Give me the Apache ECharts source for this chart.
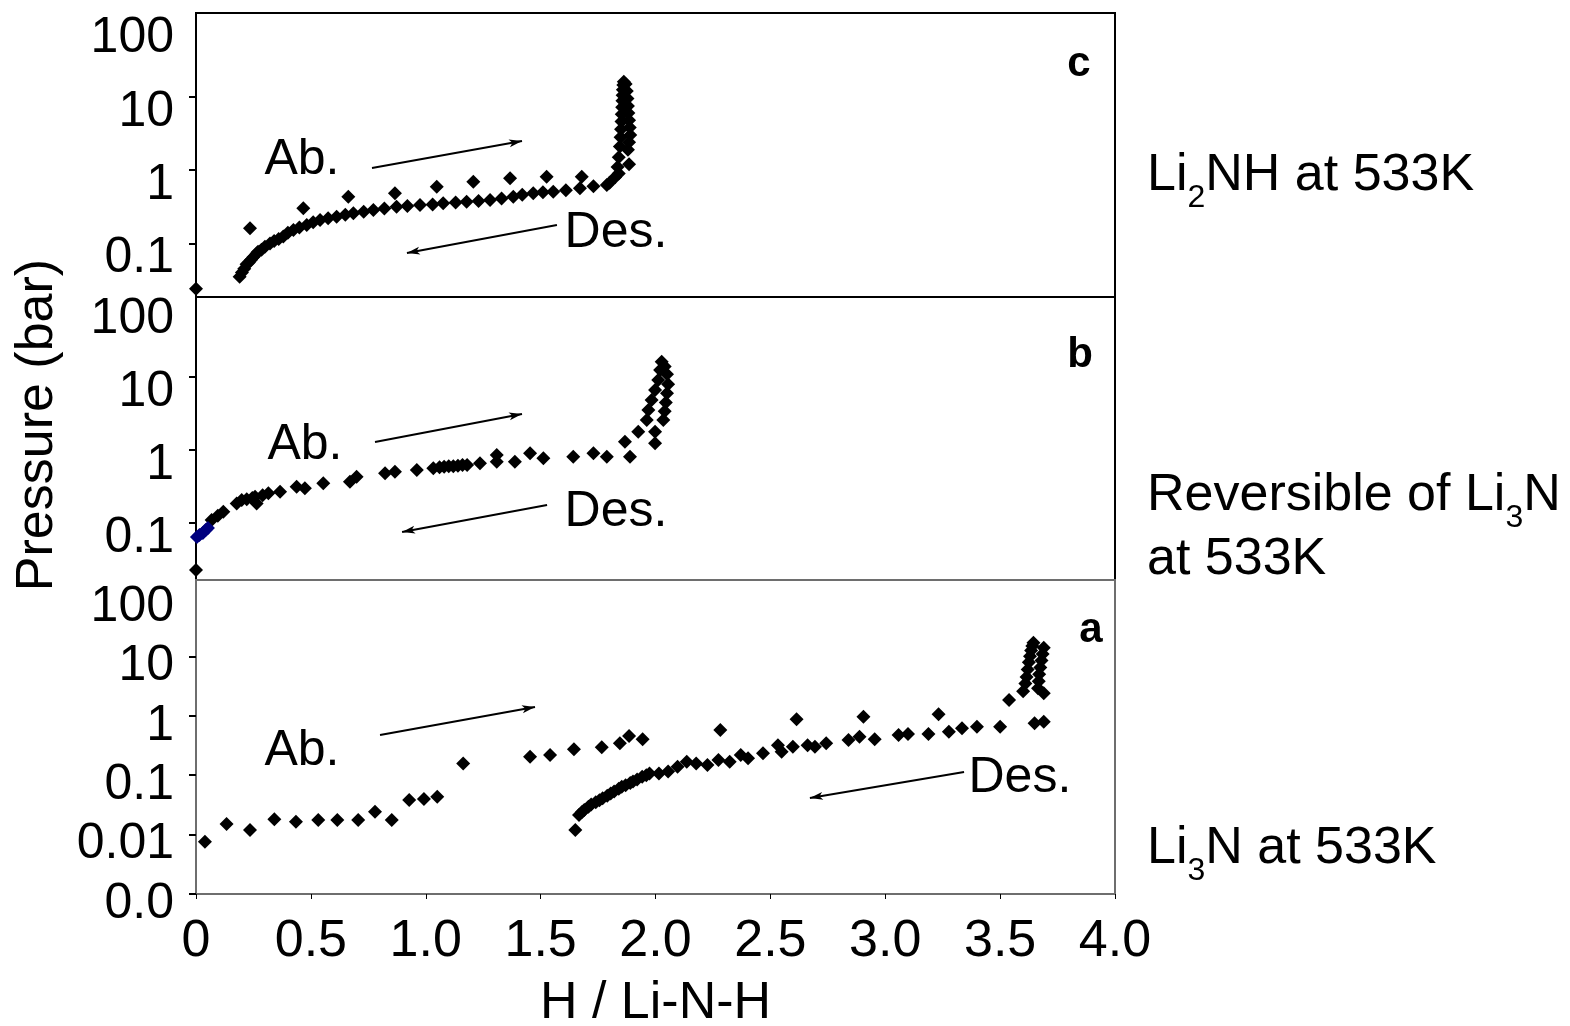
<!DOCTYPE html>
<html>
<head>
<meta charset="utf-8">
<script src="https://cdn.jsdelivr.net/npm/echarts@6/dist/echarts.min.js"></script>
<style>
  html, body { margin: 0; padding: 0; background: #fff; }
  #chart { width: 1570px; height: 1026px; }
</style>
</head>
<body>
<div id="chart"></div>
<script>
// ---- data: H / Li-N-H (x) vs pressure in bar (y) ----

// x axis ticks
const xTicks = [0, 0.5, 1.0, 1.5, 2.0, 2.5, 3.0, 3.5, 4.0];
// decade ticks / labels per panel
const upperTickValues = [0.1, 1, 10];
const upperLabelValues = [0.1, 1, 10, 100];
const lowerTickValues = [0.001, 0.01, 0.1, 1, 10];
const lowerLabelValues = [0.001, 0.01, 0.1, 1, 10, 100];

// (c) Li2NH at 533K
const li2nhAbs = [
  [0, 0.024], [0.235, 0.161], [0.467, 0.301], [0.663, 0.434], [0.866, 0.482], [1.048, 0.594],
  [1.207, 0.695], [1.367, 0.773], [1.526, 0.813], [1.679, 0.813], [1.80, 0.67], [1.824, 0.80],
  [1.835, 1.1], [1.84, 1.5], [1.845, 2.1], [1.848, 2.8], [1.85, 3.6], [1.852, 4.6], [1.853, 5.8],
  [1.855, 7.2], [1.856, 8.8], [1.857, 10.5], [1.858, 12.5], [1.86, 14.5], [1.862, 16]
];
const li2nhDes = [
  [1.87, 15], [1.875, 12], [1.878, 9.5], [1.88, 7.5], [1.882, 6], [1.885, 4.8], [1.888, 3.8],
  [1.89, 3.0], [1.885, 2.4], [1.88, 1.9], [1.885, 1.2], [1.84, 0.9], [1.788, 0.627], [1.73, 0.60],
  [1.671, 0.565], [1.61, 0.53], [1.555, 0.507], [1.51, 0.50], [1.468, 0.482], [1.42, 0.46],
  [1.381, 0.434], [1.33, 0.41], [1.28, 0.391], [1.23, 0.38], [1.178, 0.371], [1.13, 0.36],
  [1.076, 0.352], [1.03, 0.34], [0.975, 0.334], [0.92, 0.325], [0.873, 0.317], [0.82, 0.30],
  [0.772, 0.286], [0.73, 0.27], [0.685, 0.257], [0.65, 0.245], [0.612, 0.231], [0.575, 0.22],
  [0.54, 0.208], [0.51, 0.195], [0.482, 0.178], [0.45, 0.165], [0.424, 0.152], [0.40, 0.14],
  [0.38, 0.124], [0.36, 0.115], [0.34, 0.108], [0.322, 0.10], [0.30, 0.09], [0.285, 0.082],
  [0.27, 0.077], [0.264, 0.073], [0.25, 0.065], [0.24, 0.06], [0.23, 0.055], [0.22, 0.052],
  [0.21, 0.045], [0.20, 0.04], [0.19, 0.035]
];

// (b) Reversible of Li3N at 533K
const li3nRevStart = [[0.004, 0.064], [0.015, 0.068], [0.03, 0.0726], [0.042, 0.08], [0.052, 0.085]];
const li3nRev = [
  [0, 0.0225], [0.068, 0.109], [0.095, 0.125], [0.119, 0.142], [0.177, 0.185], [0.199, 0.206],
  [0.221, 0.21], [0.245, 0.22], [0.257, 0.229], [0.264, 0.185], [0.29, 0.24], [0.315, 0.254],
  [0.366, 0.268], [0.438, 0.314], [0.474, 0.298], [0.554, 0.349], [0.67, 0.367], [0.699, 0.43],
  [0.823, 0.479], [0.866, 0.504], [0.961, 0.531], [1.033, 0.561], [1.06, 0.58], [1.08, 0.59],
  [1.10, 0.60], [1.12, 0.60], [1.14, 0.61], [1.16, 0.62], [1.18, 0.62], [1.236, 0.656],
  [1.309, 0.853], [1.309, 0.69], [1.388, 0.69], [1.454, 0.9], [1.512, 0.77], [1.642, 0.81],
  [1.73, 0.9], [1.788, 0.81], [1.889, 0.81], [1.867, 1.3], [1.925, 1.78], [1.998, 1.24],
  [1.998, 1.78], [1.962, 2.58], [1.969, 3.54], [1.983, 4.86], [1.998, 6.66], [2.012, 9.14],
  [2.02, 12.5], [2.027, 16.3], [2.034, 2.58], [2.04, 3.4], [2.045, 4.5], [2.05, 6.0],
  [2.055, 8.0], [2.05, 11], [2.04, 14]
];

// (a) Li3N at 533K
const li3nAbs = [
  [0.039, 0.0076], [0.133, 0.0151], [0.235, 0.0119], [0.341, 0.0181], [0.435, 0.0164],
  [0.532, 0.0176], [0.615, 0.0176], [0.706, 0.0176], [0.779, 0.0242], [0.852, 0.0176],
  [0.928, 0.0382], [0.992, 0.0397], [1.05, 0.0433], [1.163, 0.158], [1.454, 0.205],
  [1.541, 0.219], [1.645, 0.273], [1.766, 0.295], [1.845, 0.344], [1.885, 0.457], [1.944, 0.402],
  [2.282, 0.577], [2.614, 0.873], [2.905, 0.966], [3.232, 1.06], [3.539, 1.84], [3.60, 2.6],
  [3.61, 3.5], [3.615, 4.5], [3.62, 6], [3.625, 8], [3.63, 10], [3.635, 12.5], [3.64, 15], [3.645, 17]
];
const li3nDes = [
  [3.69, 14], [3.685, 11], [3.68, 8.5], [3.675, 6.5], [3.67, 5], [3.668, 3.8], [3.665, 2.9],
  [3.69, 2.39], [3.65, 0.746], [3.69, 0.794], [3.5, 0.654], [3.399, 0.654], [3.334, 0.615],
  [3.277, 0.54], [3.188, 0.494], [3.099, 0.494], [3.058, 0.475], [2.954, 0.402], [2.888, 0.445],
  [2.84, 0.392], [2.743, 0.344], [2.694, 0.302], [2.662, 0.32], [2.598, 0.302], [2.549, 0.249],
  [2.533, 0.32], [2.468, 0.233], [2.403, 0.192], [2.371, 0.219], [2.323, 0.169], [2.274, 0.18],
  [2.226, 0.148], [2.177, 0.158], [2.136, 0.169], [2.096, 0.139], [2.055, 0.115], [2.015, 0.107],
  [1.974, 0.107], [1.96, 0.1], [1.942, 0.094], [1.92, 0.085], [1.902, 0.078], [1.89, 0.074],
  [1.87, 0.068], [1.853, 0.064], [1.84, 0.059], [1.82, 0.053], [1.805, 0.049], [1.79, 0.045],
  [1.77, 0.041], [1.756, 0.038], [1.74, 0.035], [1.72, 0.032], [1.708, 0.0295], [1.69, 0.026],
  [1.68, 0.024], [1.667, 0.0214], [1.651, 0.0119]
];

// ---- annotations (data coordinates) ----
const notesC = [['Ab.', [0.461, 1.37]], ['Des.', [1.828, 0.139]]];
const arrowsC = [[[0.766, 1.068], [1.419, 2.49]], [[1.571, 0.178], [0.918, 0.074]]];
const notesB = [['Ab.', [0.474, 1.17]], ['Des.', [1.828, 0.141]]];
const arrowsB = [[[0.779, 1.288], [1.419, 3.12]], [[1.528, 0.176], [0.897, 0.0749]]];
const notesA = [['Ab.', [0.461, 0.255]], ['Des.', [3.586, 0.0897]]];
const arrowsA = [[[0.801, 0.475], [1.4755, 1.41]], [[3.343, 0.113], [2.672, 0.0413]]];

// ---- chart ----
const FONT = '"Liberation Sans", Arial, Helvetica, sans-serif';
const chart = echarts.init(document.getElementById('chart'), null, { renderer: 'canvas' });

const decadeText = { '2': '100', '1': '10', '0': '1', '-1': '0.1', '-2': '0.01', '-3': '0.0' };
function fmtDecade(v) {
  const t = decadeText[String(Math.round(Math.log10(v)))];
  return t ? '{t|' + t + '}' : '';
}

function logAxis(gridIndex, min, max, ticks, labels, shift) {
  return {
    type: 'log', logBase: 10, gridIndex, min, max,
    axisLine: { show: false },
    splitLine: { show: false },
    axisTick: { show: true, length: 7, lineStyle: { color: '#000', width: 2 }, customValues: ticks },
    axisLabel: {
      customValues: labels, formatter: fmtDecade, margin: 22,
      rich: {
        t: { fontFamily: FONT, fontSize: 50, color: '#000', padding: [shift * 2, 0, 0, 0] }
      }
    }
  };
}

function hiddenX(gridIndex) {
  return { type: 'value', gridIndex, min: 0, max: 4, interval: 0.5, show: false };
}

function diamonds(name, data, idx, color, extra) {
  return Object.assign({
    name, type: 'scatter', xAxisIndex: idx, yAxisIndex: idx, data,
    symbol: 'diamond', symbolSize: 14, clip: false, animation: false,
    itemStyle: { color: color || '#000', opacity: 1 }
  }, extra || {});
}

function arrowLines(list) {
  return {
    silent: true, animation: false, symbol: ['none', 'arrow'], symbolSize: [6, 13],
    label: { show: false },
    lineStyle: { color: '#000', width: 2, type: 'solid', opacity: 1 },
    emphasis: { disabled: true },
    data: list.map(a => [{ coord: a[0] }, { coord: a[1] }])
  };
}

function noteTexts(list) {
  return {
    silent: true, animation: false, symbol: 'rect', symbolSize: 1,
    itemStyle: { color: 'rgba(0,0,0,0)' },
    label: {
      show: true, position: 'inside', formatter: p => p.name,
      fontFamily: FONT, fontSize: 50, color: '#000'
    },
    data: list.map(n => ({ name: n[0], coord: n[1] }))
  };
}

function sideLabel(x, y, text) {
  return {
    type: 'text', x, y,
    style: {
      text, fill: '#000', font: '52px ' + FONT, fontFamily: FONT, fontSize: 52,
      lineHeight: 76, align: 'left', verticalAlign: 'middle',
      rich: { s: { fontFamily: FONT, fontSize: 32, lineHeight: 32, verticalAlign: 'bottom', fill: '#000' } }
    }
  };
}

function panelLetter(x, y, text) {
  return {
    type: 'text', x, y,
    style: { text, font: 'bold 42px ' + FONT, fill: '#000', align: 'center', verticalAlign: 'middle' }
  };
}

// fixed panel rectangles; keep them in place even when labels reach the canvas edge
const gridBase = {
  left: 196, width: 919, show: true, borderColor: '#000', borderWidth: 2,
  containLabel: false, outerBoundsMode: 'none'
};

const option = {
  backgroundColor: '#fff',
  animation: false,
  grid: [
    Object.assign({}, gridBase, { top: 13, height: 284 }),
    Object.assign({}, gridBase, { top: 297, height: 283 }),
    Object.assign({}, gridBase, { top: 580, height: 314, borderColor: '#6e6e6e' })
  ],
  xAxis: [
    hiddenX(0),
    hiddenX(1),
    {
      type: 'value', gridIndex: 2, min: 0, max: 4, interval: 0.5,
      axisLine: { show: false }, splitLine: { show: false },
      axisTick: { show: true, length: 5, lineStyle: { color: '#000', width: 1 } },
      axisLabel: {
        fontFamily: FONT, fontSize: 52, color: '#000', margin: 22,
        formatter: v => (v === 0 ? '0' : v.toFixed(1))
      },
      name: 'H / Li-N-H', nameLocation: 'middle', nameGap: 84,
      nameTextStyle: { fontFamily: FONT, fontSize: 52, color: '#000' }
    }
  ],
  yAxis: [
    logAxis(0, 0.01857, 139, upperTickValues, upperLabelValues, 15),
    logAxis(1, 0.01642, 126, upperTickValues, upperLabelValues, 15),
    logAxis(2, 0.001, 193, lowerTickValues, lowerLabelValues, 10)
  ],
  series: [
    diamonds('Li2NH Ab.', li2nhAbs, 0, null, { markLine: arrowLines(arrowsC), markPoint: noteTexts(notesC) }),
    diamonds('Li2NH Des.', li2nhDes, 0),
    diamonds('Li3N rev.', li3nRev, 1, null, { markLine: arrowLines(arrowsB), markPoint: noteTexts(notesB) }),
    diamonds('Li3N rev. start', li3nRevStart, 1, '#00007f'),
    diamonds('Li3N Ab.', li3nAbs, 2, null, { markLine: arrowLines(arrowsA), markPoint: noteTexts(notesA) }),
    diamonds('Li3N Des.', li3nDes, 2)
  ],
  graphic: [
    {
      type: 'text', x: 38, y: 425, rotation: Math.PI / 2,
      style: { text: 'Pressure (bar)', font: '52px ' + FONT, fill: '#000',
        align: 'center', verticalAlign: 'middle' }
    },
    panelLetter(1079, 64, 'c'),
    panelLetter(1080, 355, 'b'),
    panelLetter(1091, 630, 'a'),
    sideLabel(1147, 176, 'Li{s|2}NH at 533K'),
    sideLabel(1147, 496, 'Reversible of Li{s|3}N'),
    sideLabel(1147, 560, 'at 533K'),
    sideLabel(1147, 849, 'Li{s|3}N at 533K')
  ]
};

chart.setOption(option);
</script>
</body>
</html>
